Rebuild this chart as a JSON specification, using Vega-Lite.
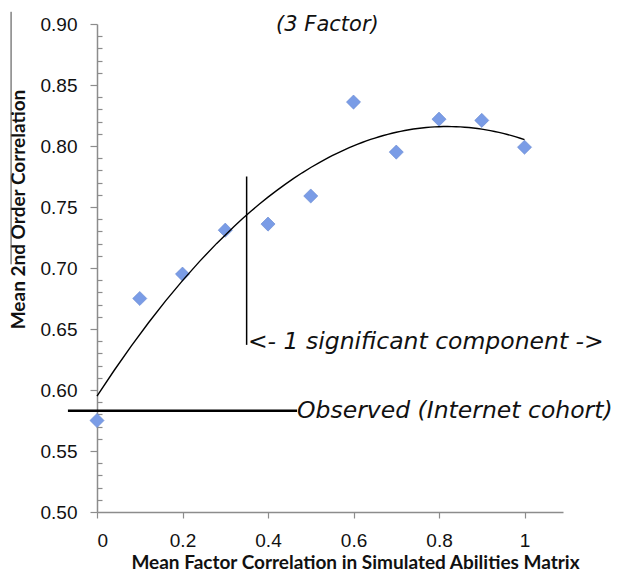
{
  "$schema": "https://vega.github.io/schema/vega-lite/v6.json",
  "autosize": "none",
  "width": 466,
  "height": 488,
  "padding": {"left": 97, "top": 24, "right": 54, "bottom": 65},
  "background": "white",
  "config": {"view": {"stroke": null}},
  "datasets": {
    "points": [
      {"x": 0.0, "y": 0.575},
      {"x": 0.1, "y": 0.675},
      {"x": 0.2, "y": 0.695},
      {"x": 0.3, "y": 0.731},
      {"x": 0.4, "y": 0.736},
      {"x": 0.5, "y": 0.759},
      {"x": 0.6, "y": 0.836},
      {"x": 0.7, "y": 0.795},
      {"x": 0.8, "y": 0.822},
      {"x": 0.9, "y": 0.821},
      {"x": 1.0, "y": 0.799}
    ],
    "rules": [
      {"name": "component", "x": 0.35, "x2": 0.35, "y": 0.637, "y2": 0.775, "w": 1.5},
      {"name": "observed", "x": -0.068, "x2": 0.468, "y": 0.583, "y2": 0.583, "w": 2.5},
      {"name": "edge", "x": -0.201, "x2": -0.201, "y": 0.91, "y2": 0.703, "w": 1}
    ],
    "notes": [
      {"text": "<- 1 significant component ->", "x": 0.353, "y": 0.639},
      {"text": "Observed (Internet cohort)", "x": 0.468, "y": 0.583}
    ],
    "heading": [
      {"text": "(3 Factor)", "x": 0.539, "y": 0.899}
    ]
  },
  "resolve": {"axis": {"y": "independent", "x": "independent"}},
  "layer": [
    {
      "data": {"name": "points"},
      "mark": {"type": "point", "shape": "diamond", "filled": true, "size": 200, "color": "#7a9ce6", "stroke": "#6688d0", "strokeWidth": 0.6, "opacity": 1},
      "encoding": {
        "x": {
          "field": "x", "type": "quantitative",
          "scale": {"domain": [0, 1.09], "nice": false, "zero": false},
          "axis": {
            "title": "Mean Factor Correlation in Simulated Abilities Matrix",
            "values": [0, 0.2, 0.4, 0.6, 0.8, 1],
            "format": "~g",
            "grid": false,
            "domainColor": "#8c8c8c", "domainWidth": 1.5,
            "tickColor": "#8c8c8c", "tickSize": 6, "tickWidth": 1.2,
            "labelFont": "Liberation Sans", "labelFontSize": 19, "labelColor": "#111", "labelPadding": 13,
            "titleFont": "Lato", "titleFontSize": 19, "titleFontWeight": "bold", "titleColor": "#111",
            "titleX": 258, "titleY": 50, "titleBaseline": "middle", "titleAlign": "center"
          }
        },
        "y": {
          "field": "y", "type": "quantitative",
          "scale": {"domain": [0.5, 0.9], "nice": false, "zero": false},
          "axis": {
            "title": "Mean 2nd Order Correlation",
            "values": [0.5, 0.55, 0.6, 0.65, 0.7, 0.75, 0.8, 0.85, 0.9],
            "format": ".2f",
            "grid": false,
            "domainColor": "#8c8c8c", "domainWidth": 1.5,
            "tickColor": "#8c8c8c", "tickSize": 7, "tickWidth": 1.2,
            "labelFont": "Liberation Sans", "labelFontSize": 19, "labelColor": "#111", "labelPadding": 13,
            "titleFont": "Lato", "titleFontSize": 19, "titleFontWeight": "bold", "titleColor": "#111",
            "titleX": -79, "titleY": 185, "titleAngle": -90, "titleBaseline": "middle", "titleAlign": "center"
          }
        }
      }
    },
    {
      "data": {"name": "points"},
      "transform": [{"regression": "y", "on": "x", "method": "poly", "order": 2, "extent": [0, 1]}],
      "mark": {"type": "line", "color": "black", "strokeWidth": 1.4},
      "encoding": {
        "x": {"field": "x", "type": "quantitative", "axis": null},
        "y": {"field": "y", "type": "quantitative", "axis": {
          "orient": "left",
          "values": [0.51,0.52,0.53,0.54,0.56,0.57,0.58,0.59,0.61,0.62,0.63,0.64,0.66,0.67,0.68,0.69,0.71,0.72,0.73,0.74,0.76,0.77,0.78,0.79,0.81,0.82,0.83,0.84,0.86,0.87,0.88,0.89],
          "labels": false, "domain": false, "grid": false, "title": null,
          "tickColor": "#8c8c8c", "tickSize": -5, "tickWidth": 1.2
        }}
      }
    },
    {
      "data": {"name": "rules"},
      "mark": {"type": "rule", "color": "black"},
      "encoding": {
        "x": {"field": "x", "type": "quantitative", "axis": null},
        "x2": {"field": "x2"},
        "y": {"field": "y", "type": "quantitative", "axis": null},
        "y2": {"field": "y2"},
        "strokeWidth": {"field": "w", "type": "quantitative", "scale": null},
        "color": {"condition": {"test": "datum.name === 'edge'", "value": "#444"}, "value": "black"}
      }
    },
    {
      "data": {"name": "notes"},
      "mark": {"type": "text", "font": "DejaVu Sans", "fontStyle": "italic", "fontSize": 23.5, "baseline": "middle", "align": "left", "color": "#111"},
      "encoding": {
        "x": {"field": "x", "type": "quantitative", "axis": null},
        "y": {"field": "y", "type": "quantitative", "axis": null},
        "text": {"field": "text"}
      }
    },
    {
      "data": {"name": "heading"},
      "mark": {"type": "text", "font": "DejaVu Sans", "fontStyle": "italic", "fontSize": 21, "baseline": "middle", "align": "center", "color": "#111"},
      "encoding": {
        "x": {"field": "x", "type": "quantitative", "axis": null},
        "y": {"field": "y", "type": "quantitative", "axis": null},
        "text": {"field": "text"}
      }
    }
  ]
}
